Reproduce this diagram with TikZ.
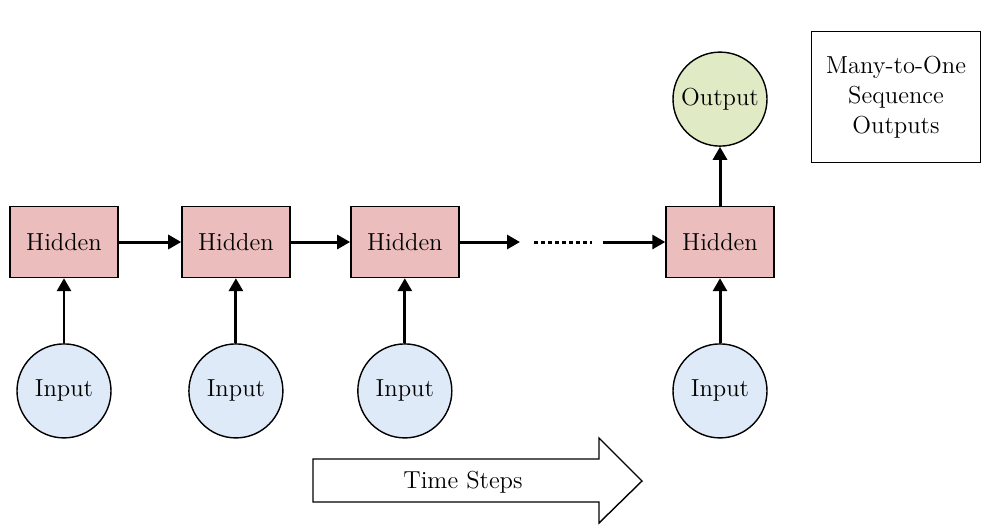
\documentclass[tikz,border=0pt]{standalone}
\usepackage{tikz}
\usetikzlibrary{arrows.meta,positioning,calc}
\usepackage{xcolor}
\definecolor{hiddenred}{RGB}{236,189,189}
\definecolor{inputblue}{RGB}{222,234,247}
\definecolor{outputgreen}{RGB}{224,235,198}

\begin{document}
\begin{tikzpicture}[x=0.2mm, y=-0.2mm,
    hidden/.style={rectangle, draw=black, line width=0.8pt, fill=hiddenred,
        minimum width=2.16cm, minimum height=1.42cm, font=\fontsize{14}{16}\selectfont},
    inp/.style={circle, draw=black, line width=0.8pt, fill=inputblue,
        minimum size=1.88cm, inner sep=0pt, font=\fontsize{14}{16}\selectfont},
    outp/.style={circle, draw=black, line width=0.8pt, fill=outputgreen,
        minimum size=1.88cm, inner sep=0pt, font=\fontsize{14}{16}\selectfont},
    arr/.style={-{Triangle[length=2.6mm,width=2.8mm]}, line width=1.7pt},
    dots/.style={line width=1.7pt, dash pattern=on 2pt off 2pt}
]
    \useasboundingbox (0,0) rectangle (987,524);

    % Hidden states
    \node[hidden] (h1) at (64,242) {Hidden};
    \node[hidden, right=1.25cm of h1] (h2) {Hidden};
    \node[hidden, right=1.19cm of h2] (h3) {Hidden};
    \node[hidden] (h4) at (720,242) {Hidden};

    % Inputs
    \node[inp, below=1.3cm of h1] (x1) {Input};
    \node[inp, below=1.3cm of h2] (x2) {Input};
    \node[inp, below=1.3cm of h3] (x3) {Input};
    \node[inp, below=1.3cm of h4] (x4) {Input};

    % Output
    \node[outp, above=1.18cm of h4] (y) {Output};

    % Legend
    \node[draw=black, line width=0.6pt, minimum width=3.38cm, minimum height=2.62cm,
        align=center, font=\fontsize{14}{17}\selectfont] (legend) at (896,97)
        {Many-to-One\\Sequence\\Outputs};

    % Gap in the chain
    \coordinate (gapL) at (520,242);
    \coordinate (dotsL) at (534,242);
    \coordinate (dotsR) at (592,242);
    \coordinate (gapR) at (603,242);

    % Recurrent arrows
    \draw[arr] (h1) -- (h2);
    \draw[arr] (h2) -- (h3);
    \draw[arr] (h3) -- (gapL);
    \draw[dots] (dotsL) -- (dotsR);
    \draw[arr] (gapR) -- (h4);

    % Input and output arrows
    \foreach \i in {1,2,3,4}
        \draw[arr] (x\i) -- (h\i);
    \draw[arr] (h4) -- (y);

    % Time arrow
    \draw[line width=0.8pt, fill=white]
        (313,459) -- (599,459) -- (599,438) -- (642,481) -- (599,523)
        -- (599,502) -- (313,502) -- cycle;
    \node[font=\fontsize{14}{16}\selectfont] (time) at (463,482) {Time Steps};
\end{tikzpicture}
\end{document}
